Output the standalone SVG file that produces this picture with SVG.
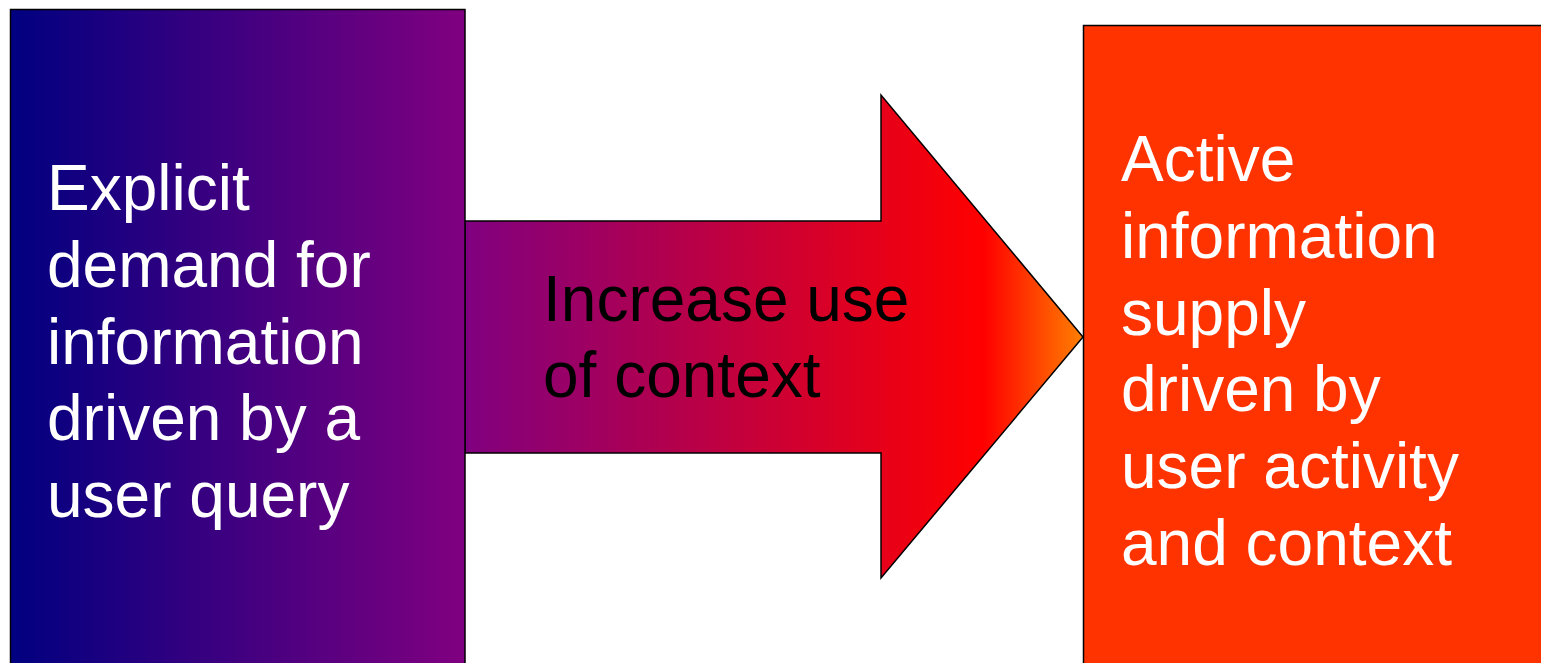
<svg xmlns="http://www.w3.org/2000/svg" width="1541" height="663" viewBox="0 0 1541 663">
<style>
  .lbl { font-family: "Liberation Sans", Arial, sans-serif; font-size: 64px; }
  .w { fill: #FFFFFF; }
  .k { fill: #000000; }
  .edge { stroke: #000000; stroke-width: 1.5; }
</style>
<defs>
  <linearGradient id="gLeft" gradientUnits="userSpaceOnUse" x1="10" y1="0" x2="465" y2="0">
    <stop offset="0" stop-color="#000080"/>
    <stop offset="1" stop-color="#800080"/>
  </linearGradient>
  <linearGradient id="gArrow" gradientUnits="userSpaceOnUse" x1="465" y1="0" x2="1083" y2="0">
    <stop offset="0" stop-color="#800080"/>
    <stop offset="0.84" stop-color="#FF0000"/>
    <stop offset="1" stop-color="#FF8000"/>
  </linearGradient>
</defs>
<rect width="1541" height="663" fill="#FFFFFF"/>
<g id="connectors">
  <polygon class="edge" fill="url(#gArrow)" points="465,221 881,221 881,95 1083,337 881,578 881,453 465,453"/>
  <text class="lbl k" x="543" y="321">Increase use</text>
  <text class="lbl k" x="543" y="397">of context</text>
</g>
<g id="node-left">
  <rect class="edge" fill="url(#gLeft)" x="10.5" y="9.5" width="454.5" height="660"/>
  <text class="lbl w" x="47" y="210">Explicit</text>
  <text class="lbl w" x="47" y="287">demand for</text>
  <text class="lbl w" x="47" y="364">information</text>
  <text class="lbl w" x="47" y="440">driven by a</text>
  <text class="lbl w" x="47" y="517">user query</text>
</g>
<g id="node-right">
  <rect class="edge" fill="#FF3300" x="1083.5" y="25.5" width="470" height="660"/>
  <text class="lbl w" x="1121" y="181">Active</text>
  <text class="lbl w" x="1121" y="258">information</text>
  <text class="lbl w" x="1121" y="335">supply</text>
  <text class="lbl w" x="1121" y="411">driven by</text>
  <text class="lbl w" x="1121" y="488">user activity</text>
  <text class="lbl w" x="1121" y="565">and context</text>
</g>
</svg>
